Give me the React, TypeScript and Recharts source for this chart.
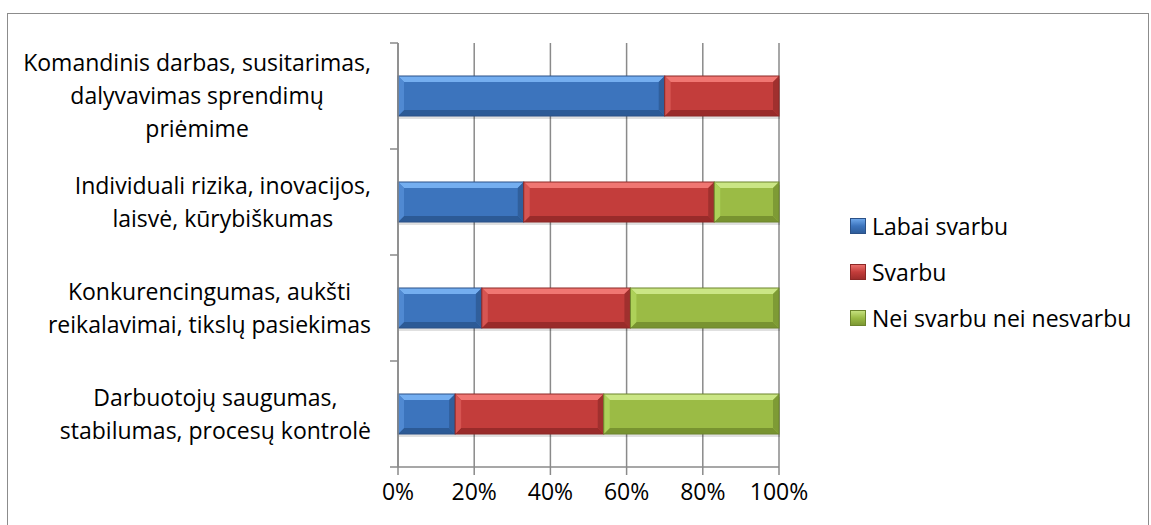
import { BarChart, Bar, XAxis, YAxis, CartesianGrid } from 'recharts';

// Categories, top to bottom
const categories = [
    'Komandinis darbas, susitarimas,|dalyvavimas sprendimų|priėmime',
    'Individuali rizika, inovacijos,|laisvė, kūrybiškumas',
    'Konkurencingumas, aukšti|reikalavimai, tikslų pasiekimas',
    'Darbuotojų saugumas,|stabilumas, procesų kontrolė',
];

// Shares in percent per category
const labaiSvarbu = [70, 33, 22, 15];
const svarbu = [30, 50, 39, 39];
const neiSvarbu = [0, 17, 39, 46];

const xTicks = [0, 20, 40, 60, 80, 100];

const seriesNames = ['Labai svarbu', 'Svarbu', 'Nei svarbu nei nesvarbu'];

const data = categories.map((c, i) => ({
    cat: c,
    a: labaiSvarbu[i],
    b: svarbu[i],
    c: neiSvarbu[i],
}));

const FONT = '"Open Sans", Lato, sans-serif';
const FONT_SIZE = 23;
const GRID = '#8a8a8a';

const W = 1151;
const H = 525;
const TOP = 43;
const BOTTOM = 467;
const LEFT = 398;
const RIGHT = 779;

type Pal = { base: string; light: string; dark: string; left: string; right: string; edge: string };

const palettes: Pal[] = [
    { base: '#3c74bd', light: '#74aef0', dark: '#2c5a96', left: '#5089d2', right: '#305f9c', edge: '#2b5187' },
    { base: '#c33d3b', light: '#f07672', dark: '#992b2a', left: '#d65552', right: '#a0302e', edge: '#8c2826' },
    { base: '#9bbb45', light: '#cbe685', dark: '#789330', left: '#add159', right: '#7e9b35', edge: '#6c842c' },
];

// bevelled segment, Office 2007 style
const bevel = (pal: Pal) => (props: any) => {
    const { x, y, width: w, height: h } = props;
    if (!w || w <= 0) return <g />;
    const b = Math.min(6, w / 2);
    return (
        <g>
            <rect x={x + 1} y={y + 3} width={w} height={h} fill="rgba(0,0,0,0.12)" />
            <rect x={x} y={y} width={w} height={h} fill={pal.base} />
            <polygon points={`${x},${y} ${x + w},${y} ${x + w - b},${y + b} ${x + b},${y + b}`} fill={pal.light} />
            <polygon points={`${x},${y + h} ${x + w},${y + h} ${x + w - b},${y + h - b} ${x + b},${y + h - b}`} fill={pal.dark} />
            <polygon points={`${x},${y} ${x + b},${y + b} ${x + b},${y + h - b} ${x},${y + h}`} fill={pal.left} />
            <polygon points={`${x + w},${y} ${x + w - b},${y + b} ${x + w - b},${y + h - b} ${x + w},${y + h}`} fill={pal.right} />
            <rect x={x} y={y} width={w} height={h} fill="none" stroke={pal.edge} strokeWidth={1} />
        </g>
    );
};

let ctx: CanvasRenderingContext2D | null = null;
const textWidth = (s: string) => {
    if (!ctx) {
        ctx = document.createElement('canvas').getContext('2d');
    }
    if (!ctx) return s.length * FONT_SIZE * 0.5;
    ctx.font = `${FONT_SIZE}px ${FONT}`;
    return ctx.measureText(s).width;
};

const band = (BOTTOM - TOP) / categories.length;

// multi-line category label, block right aligned, lines centred, plus boundary ticks
const CatTick = (props: any) => {
    const { y, payload, index } = props;
    const lines: string[] = String(payload.value).split('|');
    const maxW = Math.max(...lines.map(textWidth));
    const cx = 371 - maxW / 2;
    const lh = 33;
    const y0 = y - ((lines.length - 1) * lh) / 2;
    return (
        <g>
            {index === 0 && <line x1={LEFT - 8} x2={LEFT} y1={y - band / 2} y2={y - band / 2} stroke={GRID} strokeWidth={1.5} />}
            <line x1={LEFT - 8} x2={LEFT} y1={y + band / 2} y2={y + band / 2} stroke={GRID} strokeWidth={1.5} />
            <text textAnchor="middle" fontFamily={FONT} fontSize={FONT_SIZE} fill="#000">
                {lines.map((l, i) => (
                    <tspan key={i} x={cx} y={y0 + i * lh} dy="0.35em">{l}</tspan>
                ))}
            </text>
        </g>
    );
};

const keys = ['a', 'b', 'c'];

export default function App() {
    return (
        <div style={{ position: 'absolute', left: 0, top: 0, width: W, height: H, background: '#fff', overflow: 'hidden' }}>
            <div style={{ position: 'absolute', left: 7, top: 13, width: 1140, height: 560, border: '1.5px solid #8c8c8c' }} />
            <div style={{ position: 'absolute', left: 0, top: 0 }}>
                <BarChart
                    width={W}
                    height={H}
                    data={data}
                    layout="vertical"
                    margin={{ top: TOP, bottom: H - BOTTOM - 40, left: 0, right: W - RIGHT }}
                    barSize={40}
                >
                    <CartesianGrid horizontal={false} stroke={GRID} strokeWidth={1.5} />
                    <XAxis
                        type="number"
                        domain={[0, 100]}
                        ticks={xTicks}
                        tickFormatter={(v) => `${v}%`}
                        stroke={GRID}
                        strokeWidth={1.5}
                        tickSize={8}
                        tickMargin={9}
                        height={40}
                        tick={{ fill: '#000', fontSize: FONT_SIZE, fontFamily: FONT }}
                        interval={0}
                    />
                    <YAxis
                        type="category"
                        dataKey="cat"
                        width={LEFT}
                        tickLine={false}
                        stroke={GRID}
                        strokeWidth={1.5}
                        tick={<CatTick />}
                        interval={0}
                    />
                    {keys.map((k, i) => (
                        <Bar
                            key={k}
                            dataKey={k}
                            name={seriesNames[i]}
                            stackId="s"
                            fill={palettes[i].base}
                            shape={bevel(palettes[i])}
                            isAnimationActive={false}
                        />
                    ))}
                </BarChart>
            </div>
            <div style={{ position: 'absolute', left: 850, top: 203, fontFamily: FONT, fontSize: FONT_SIZE, color: '#000' }}>
                {seriesNames.map((n, i) => (
                    <div key={n} style={{ display: 'flex', alignItems: 'center', height: 46 }}>
                        <span
                            style={{
                                width: 16,
                                height: 16,
                                marginRight: 6,
                                background: `linear-gradient(${palettes[i].light}, ${palettes[i].base} 50%, ${palettes[i].dark})`,
                                boxShadow: `inset 0 0 0 1px ${palettes[i].edge}`,
                            }}
                        />
                        <span>{n}</span>
                    </div>
                ))}
            </div>
        </div>
    );
}
